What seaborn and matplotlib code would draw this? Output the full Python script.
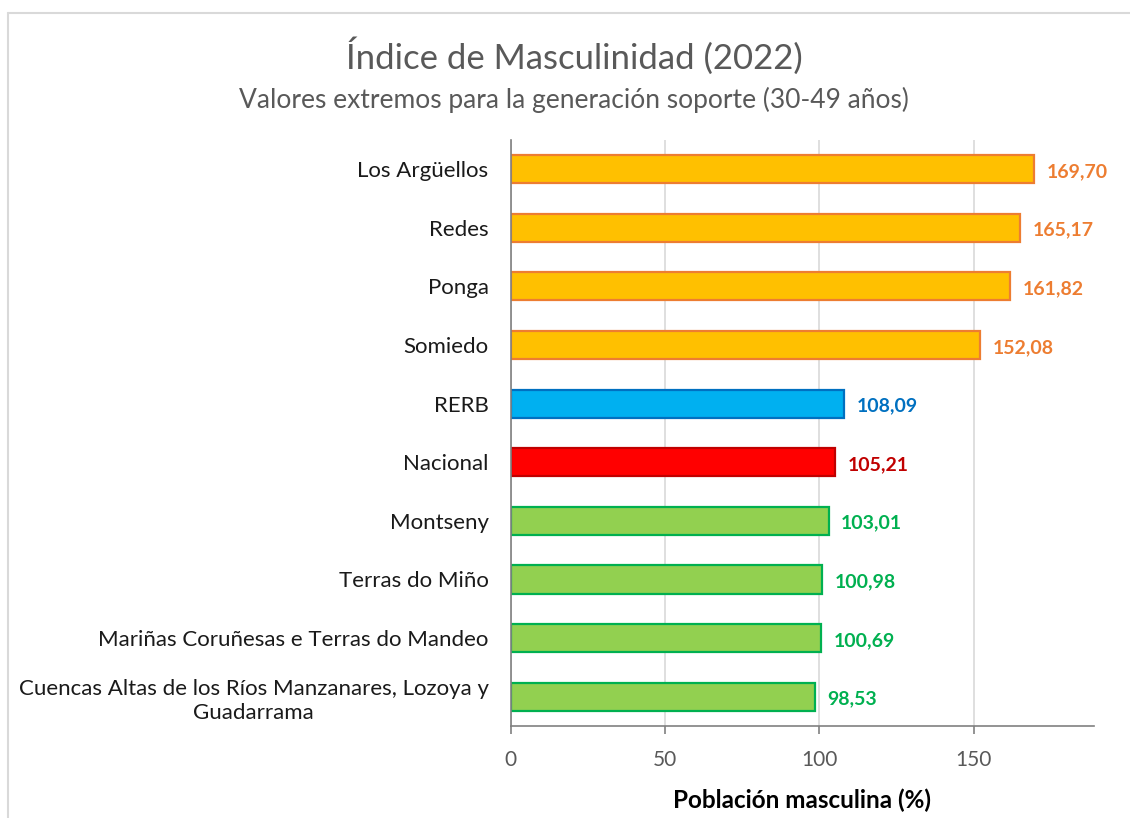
import pandas as pd
import matplotlib.pyplot as plt
import seaborn as sns

# data
categories = [
    'Los Argüellos', 'Redes', 'Ponga', 'Somiedo', 'RERB', 'Nacional',
    'Montseny', 'Terras do Miño', 'Mariñas Coruñesas e Terras do Mandeo',
    'Cuencas Altas de los Ríos Manzanares, Lozoya y\nGuadarrama',
]
values = [169.70, 165.17, 161.82, 152.08, 108.09, 105.21, 103.01, 100.98, 100.69, 98.53]
groups = ['alto', 'alto', 'alto', 'alto', 'rerb', 'nacional', 'bajo', 'bajo', 'bajo', 'bajo']

fill_colors = {'alto': '#FFC000', 'rerb': '#00B0F0', 'nacional': '#FF0000', 'bajo': '#92D050'}
edge_colors = {'alto': '#ED7D31', 'rerb': '#0070C0', 'nacional': '#C00000', 'bajo': '#00B050'}
label_colors = {'alto': '#ED7D31', 'rerb': '#0070C0', 'nacional': '#C00000', 'bajo': '#00B050'}

df = pd.DataFrame({'zona': categories, 'valor': values, 'grupo': groups})

sns.set_style('white')
plt.rcParams['font.family'] = ['Lato', 'DejaVu Sans']

fig = plt.figure(figsize=(11.3, 8.18), dpi=100)
ax = fig.add_axes([0.452, 0.1125, 0.516, 0.7165])

sns.barplot(data=df, y='zona', x='valor', hue='grupo', palette=fill_colors,
            orient='h', width=0.48, dodge=False, legend=False, saturation=1, ax=ax)

# bar outlines and value labels
for patch in ax.patches:
    w = patch.get_width()
    if w == 0:
        continue
    y = patch.get_y() + patch.get_height() / 2
    idx = int(round(y))
    g = groups[idx]
    patch.set_edgecolor(edge_colors[g])
    patch.set_linewidth(1.6)
    ax.text(w + 4, y + 0.04, f'{values[idx]:.2f}'.replace('.', ','), va='center', ha='left',
            fontsize=14, fontweight='bold', color=label_colors[g])

ax.set_xlim(0, 189)
ax.set_ylim(9.5, -0.5)
ax.set_xticks([0, 50, 100, 150])
ax.xaxis.grid(True, color='#D9D9D9', linewidth=1.2)
ax.set_axisbelow(True)
for s in ['top', 'right']:
    ax.spines[s].set_visible(False)
ax.spines['left'].set_color('#808080')
ax.spines['bottom'].set_color('#808080')
ax.spines['left'].set_linewidth(1.2)
ax.spines['bottom'].set_linewidth(1.2)
ax.tick_params(axis='x', colors='#808080', labelcolor='#595959', labelsize=15,
               length=6, width=1.2, direction='out', pad=11, bottom=True)
ax.tick_params(axis='y', labelsize=16, labelcolor='#1a1a1a', length=0, pad=16)
for lbl in ax.get_yticklabels():
    lbl.set_multialignment('center')
    lbl.set_linespacing(1.25)

ax.set_ylabel('')
ax.set_xlabel('Población masculina (%)', fontsize=17.5, fontweight='bold', color='black', labelpad=14)

fig.text(0.508, 0.931, 'Índice de Masculinidad (2022)', ha='center', va='center',
         fontsize=25, color='#595959')
fig.text(0.508, 0.878, 'Valores extremos para la generación soporte (30-49 años)', ha='center',
         va='center', fontsize=19, color='#595959')

# chart area border (left and top edges visible in reference)
fig.add_artist(plt.Line2D([0.0075, 0.0075], [0.0, 0.984], color='#D9D9D9', linewidth=1.5,
                          transform=fig.transFigure))
fig.add_artist(plt.Line2D([0.0075, 1.0], [0.984, 0.984], color='#D9D9D9', linewidth=1.5,
                          transform=fig.transFigure))

fig.savefig('out.png', dpi=100)
